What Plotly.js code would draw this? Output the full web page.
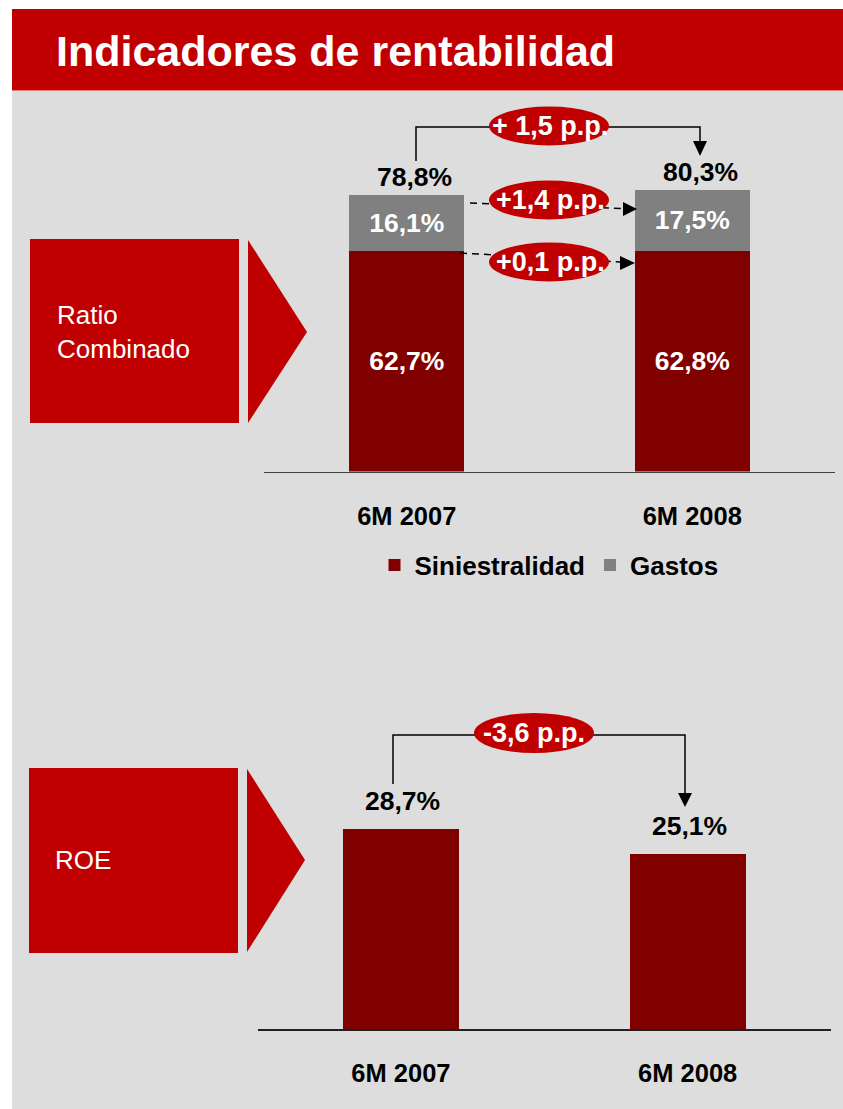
<!DOCTYPE html>
<html>
<head>
<meta charset="utf-8">
<script src="https://cdn.plot.ly/plotly-3.0.1.min.js"></script>
<style>html,body{margin:0;padding:0;background:#fff}#chart{width:843px;height:1109px}</style>
</head>
<body>
<div id="chart"></div>
<script>
// ---- data ----
const categories = ['6M 2007', '6M 2008'];
const siniestralidad = [62.7, 62.8];
const gastos = [16.1, 17.5];
const ratioTotal = [78.8, 80.3];
const roe = [28.7, 25.1];
const ratioDiffLabels = ['+ 1,5 p.p.', '+1,4 p.p.', '+0,1 p.p.'];
const roeDiffLabel = '-3,6 p.p.';
const seriesNames = ['Siniestralidad', 'Gastos'];
const titleText = 'Indicadores de rentabilidad';
const sectionLabels = ['Ratio<br>Combinado', 'ROE'];

// ---- helpers ----
const W = 843, H = 1109;
const X = x => x / W;
const Y = y => 1 - y / H;
const fmt = v => v.toFixed(1).replace('.', ',') + '%';
const FONT = 'Liberation Sans, Arial, sans-serif';
const RED = '#C00000', DARK = '#800000', GREY = '#808080', BG = '#DDDDDD';

const traces = [
  {type: 'bar', name: seriesNames[0], x: categories, y: siniestralidad, xaxis: 'x', yaxis: 'y',
   width: 0.403, marker: {color: DARK}, text: siniestralidad.map(fmt), textposition: 'inside',
   insidetextanchor: 'middle', textangle: 0,
   textfont: {family: FONT, size: 26.5, color: '#fff', weight: 'bold'}, hoverinfo: 'skip'},
  {type: 'bar', name: seriesNames[1], x: categories, y: gastos, xaxis: 'x', yaxis: 'y',
   width: 0.403, marker: {color: GREY}, text: gastos.map(fmt), textposition: 'inside',
   insidetextanchor: 'middle', textangle: 0,
   textfont: {family: FONT, size: 26.5, color: '#fff', weight: 'bold'}, hoverinfo: 'skip'},
  {type: 'bar', name: 'ROE', x: categories, y: roe, xaxis: 'x2', yaxis: 'y2', showlegend: false,
   width: 0.405, marker: {color: DARK}, hoverinfo: 'skip'}
];

const annotations = [];
annotations.push({xref: 'paper', yref: 'paper', x: X(54), y: Y(50.5), xanchor: 'left', yanchor: 'middle',
  text: titleText, showarrow: false, font: {family: FONT, size: 43, color: '#fff', weight: 'bold'}});
annotations.push({xref: 'paper', yref: 'paper', x: X(55), y: Y(332), xanchor: 'left', yanchor: 'middle', align: 'left',
  text: sectionLabels[0], showarrow: false, font: {family: FONT, size: 26, color: '#fff'}});
annotations.push({xref: 'paper', yref: 'paper', x: X(53), y: Y(860), xanchor: 'left', yanchor: 'middle', align: 'left',
  text: sectionLabels[1], showarrow: false, font: {family: FONT, size: 26, color: '#fff'}});
categories.forEach((c, i) => {
  annotations.push({xref: 'x', yref: 'y', x: c, y: ratioTotal[i], xanchor: 'center', yanchor: 'bottom', yshift: 0.5, xshift: 8,
    text: fmt(ratioTotal[i]), showarrow: false, font: {family: FONT, size: 26.5, color: '#000', weight: 'bold'}});
  annotations.push({xref: 'x2', yref: 'y2', x: c, y: roe[i], xanchor: 'center', yanchor: 'bottom', yshift: 10.5, xshift: 1.5,
    text: fmt(roe[i]), showarrow: false, font: {family: FONT, size: 26.5, color: '#000', weight: 'bold'}});
});
const ellipses = [[549, 126], [549, 200], [549, 262]];
ellipses.forEach((p, i) => {
  annotations.push({xref: 'paper', yref: 'paper', x: X(p[0] + 1), y: Y(p[1]), xanchor: 'center', yanchor: 'middle',
    text: ratioDiffLabels[i], showarrow: false, font: {family: FONT, size: 27, color: '#fff', weight: 'bold'}});
});
annotations.push({xref: 'paper', yref: 'paper', x: X(534), y: Y(733), xanchor: 'center', yanchor: 'middle',
  text: roeDiffLabel, showarrow: false, font: {family: FONT, size: 27, color: '#fff', weight: 'bold'}});

const P = pts => 'M ' + pts.map(p => X(p[0]) + ',' + Y(p[1])).join(' L ');
const shapes = [
  {type: 'rect', xref: 'paper', yref: 'paper', x0: X(12), x1: X(843), y0: Y(91), y1: Y(1109), fillcolor: BG, line: {width: 0}, layer: 'below'},
  {type: 'rect', xref: 'paper', yref: 'paper', x0: X(12), x1: X(843), y0: Y(9), y1: Y(90.5), fillcolor: RED, line: {width: 0}, layer: 'below'},
  {type: 'rect', xref: 'paper', yref: 'paper', x0: X(30), x1: X(239), y0: Y(239), y1: Y(423), fillcolor: RED, line: {width: 0}, layer: 'below'},
  {type: 'path', xref: 'paper', yref: 'paper', path: P([[248, 240], [307, 332], [248, 423]]) + ' Z', fillcolor: RED, line: {width: 0}, layer: 'below'},
  {type: 'rect', xref: 'paper', yref: 'paper', x0: X(29), x1: X(238), y0: Y(768), y1: Y(953), fillcolor: RED, line: {width: 0}, layer: 'below'},
  {type: 'path', xref: 'paper', yref: 'paper', path: P([[247, 769], [305, 860], [247, 952]]) + ' Z', fillcolor: RED, line: {width: 0}, layer: 'below'},
  // top bracket
  {type: 'path', xref: 'paper', yref: 'paper', path: P([[416, 161], [416, 127], [700, 127], [700, 142]]), line: {color: '#000', width: 1.5}},
  {type: 'path', xref: 'paper', yref: 'paper', path: P([[693, 141], [707, 141], [700, 156]]) + ' Z', fillcolor: '#000', line: {width: 0}},
  // dashed arrows
  {type: 'line', xref: 'paper', yref: 'paper', x0: X(470), y0: Y(203), x1: X(624), y1: Y(208.5), line: {color: '#000', width: 1.5, dash: '7px,5px'}},
  {type: 'path', xref: 'paper', yref: 'paper', path: P([[623, 202], [637, 209], [623, 216]]) + ' Z', fillcolor: '#000', line: {width: 0}},
  {type: 'line', xref: 'paper', yref: 'paper', x0: X(460), y0: Y(253), x1: X(620), y1: Y(262), line: {color: '#000', width: 1.5, dash: '7px,5px'}},
  {type: 'path', xref: 'paper', yref: 'paper', path: P([[620, 256], [635, 263], [620, 270]]) + ' Z', fillcolor: '#000', line: {width: 0}},
  // ROE bracket
  {type: 'path', xref: 'paper', yref: 'paper', path: P([[393, 784], [393, 735], [685, 735], [685, 794]]), line: {color: '#000', width: 1.5}},
  {type: 'path', xref: 'paper', yref: 'paper', path: P([[678, 793], [692, 793], [685, 807]]) + ' Z', fillcolor: '#000', line: {width: 0}}
];
ellipses.forEach(p => shapes.push({type: 'circle', xref: 'paper', yref: 'paper',
  x0: X(p[0] - 60), x1: X(p[0] + 60), y0: Y(p[1] - 19.5), y1: Y(p[1] + 19.5), fillcolor: RED, line: {width: 0}}));
shapes.push({type: 'circle', xref: 'paper', yref: 'paper', x0: X(474), x1: X(594), y0: Y(713), y1: Y(753), fillcolor: RED, line: {width: 0}});

const xCommon = {type: 'category', showgrid: false, zeroline: false, ticks: '', showline: true,
  tickfont: {family: FONT, size: 25.5, color: '#000', weight: 'bold'}, ticklabelstandoff: 21, fixedrange: true};
const yCommon = {showgrid: false, zeroline: false, showticklabels: false, showline: false, ticks: '', fixedrange: true};

const layout = {
  width: W, height: H, autosize: false,
  margin: {l: 0, r: 0, t: 0, b: 0, pad: 0},
  paper_bgcolor: '#FFFFFF', plot_bgcolor: 'rgba(0,0,0,0)',
  barmode: 'stack', showlegend: true, hovermode: false,
  font: {family: FONT},
  xaxis: Object.assign({}, xCommon, {domain: [X(264), X(835)], anchor: 'y', range: [-0.5, 1.5], linecolor: '#404040', linewidth: 1.5}),
  yaxis: Object.assign({}, yCommon, {domain: [Y(471.5), Y(95)], anchor: 'x', range: [0, (471.5 - 95) / 3.509]}),
  xaxis2: Object.assign({}, xCommon, {domain: [X(257.5), X(831)], anchor: 'y2', range: [-0.5, 1.5], linecolor: '#202020', linewidth: 1.5}),
  yaxis2: Object.assign({}, yCommon, {domain: [Y(1029), Y(700)], anchor: 'x2', range: [0, (1029 - 700) / 6.98]}),
  legend: {orientation: 'h', x: X(549), y: Y(565), xanchor: 'center', yanchor: 'middle', traceorder: 'normal',
    bgcolor: 'rgba(0,0,0,0)', font: {family: FONT, size: 26, color: '#000', weight: 'bold'}, itemclick: false, itemdoubleclick: false},
  annotations: annotations,
  shapes: shapes
};

Plotly.newPlot('chart', traces, layout, {displayModeBar: false, staticPlot: true});
</script>
</body>
</html>
